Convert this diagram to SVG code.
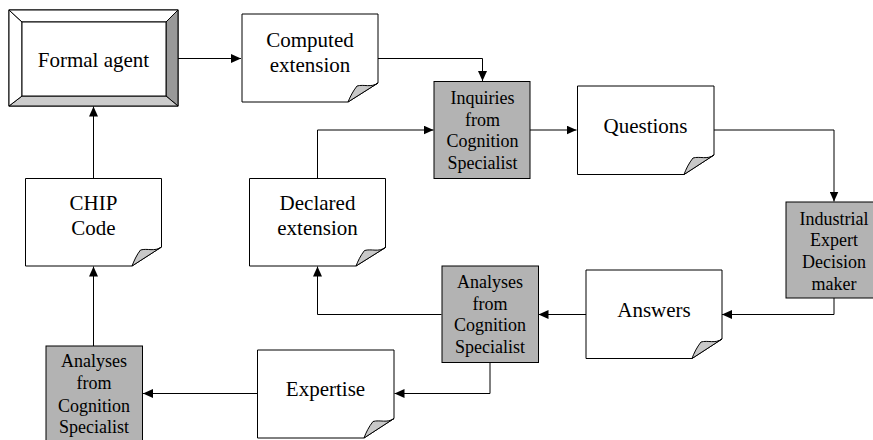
<svg xmlns="http://www.w3.org/2000/svg" width="873" height="440" viewBox="0 0 873 440">
<style>
.doc{fill:#fff;stroke:#000;stroke-width:1}
.curl{fill:#c8c8c8;stroke:#000;stroke-width:1}
.gray{fill:#b3b3b3;stroke:#000;stroke-width:1}
.t{font-family:"Liberation Serif","Times New Roman",serif;font-size:21px;fill:#000;text-anchor:middle}
.s{font-family:"Liberation Serif","Times New Roman",serif;font-size:18px;fill:#000;text-anchor:middle}
.c{fill:none;stroke:#000;stroke-width:1;marker-end:url(#ah)}
</style>
<defs>
<marker id="ah" markerUnits="userSpaceOnUse" markerWidth="11" markerHeight="9" refX="10" refY="4.5" orient="auto">
<path d="M0,0 L10,4.5 L0,9 Z" fill="#000"/>
</marker>
</defs>
<rect width="873" height="440" fill="#fff"/>

<g id="connectors">
<path class="c" d="M178,58.5 H241"/>
<path class="c" d="M378,58.5 H482.5 V81"/>
<path class="c" d="M530,130 H576.5"/>
<path class="c" d="M714,130 H834 V201.5"/>
<path class="c" d="M834,298 V314.5 H722"/>
<path class="c" d="M586,314.5 H538.5"/>
<path class="c" d="M441.5,314.5 H317.5 V266.5"/>
<path class="c" d="M317.5,178 V130 H433.5"/>
<path class="c" d="M490,362 V393.5 H394.5"/>
<path class="c" d="M257,393.5 H143"/>
<path class="c" d="M93.5,346 V266.5"/>
<path class="c" d="M93.5,178 V106.5"/>
</g>

<g id="formal-agent">
<rect x="9" y="10" width="169" height="96" fill="#fff" stroke="#000"/>
<polygon points="166,22 178,10 178,106 166,96" fill="#999" stroke="#000"/>
<polygon points="22,96 166,96 178,106 9,106" fill="#ccc" stroke="#000"/>
<polygon points="9,10 22,22 22,96 9,106" fill="#fff" stroke="#000"/>
<polygon points="9,10 178,10 166,22 22,22" fill="#fff" stroke="#000"/>
<rect x="22" y="22" width="144" height="74" fill="#fff" stroke="#000"/>
<text class="t" x="93.5" y="66.5">Formal agent</text>
</g>

<g id="computed-extension">
<path class="doc" d="M242,14 H378 V83 L348,102 H242 Z"/>
<path class="curl" d="M348,102 L378,83 C371,88 364,84 357,86 C353,91 350,97 348,102 Z"/>
<text class="t" x="310" y="46.5">Computed</text>
<text class="t" x="310" y="71.5">extension</text>
</g>

<g id="inquiries">
<rect class="gray" x="434" y="81.5" width="96" height="97"/>
<text class="s" x="482.5" y="104">Inquiries</text>
<text class="s" x="482.5" y="125.7">from</text>
<text class="s" x="482.5" y="147.4">Cognition</text>
<text class="s" x="482.5" y="169">Specialist</text>
</g>

<g id="questions">
<path class="doc" d="M577.5,86 H714 V155 L684,174.5 H577.5 Z"/>
<path class="curl" d="M684,174.5 L714,155 C707,160 700,156 693,158 C689,163 686,169 684,174.5 Z"/>
<text class="t" x="645.5" y="132.5">Questions</text>
</g>

<g id="industrial-expert">
<rect class="gray" x="786" y="202" width="100" height="96"/>
<text class="s" x="834" y="224.5">Industrial</text>
<text class="s" x="834" y="246.2">Expert</text>
<text class="s" x="834" y="268">Decision</text>
<text class="s" x="834" y="289.7">maker</text>
</g>

<g id="answers">
<path class="doc" d="M586,270 H722 V339 L692,358.5 H586 Z"/>
<path class="curl" d="M692,358.5 L722,339 C715,344 708,340 701,342 C697,347 694,353 692,358.5 Z"/>
<text class="t" x="654" y="316.5">Answers</text>
</g>

<g id="analyses-middle">
<rect class="gray" x="442" y="266" width="96.5" height="96.5"/>
<text class="s" x="490" y="288">Analyses</text>
<text class="s" x="490" y="309.7">from</text>
<text class="s" x="490" y="331.4">Cognition</text>
<text class="s" x="490" y="353">Specialist</text>
</g>

<g id="declared-extension">
<path class="doc" d="M249.5,178.5 H385.5 V247.5 L356,266 H249.5 Z"/>
<path class="curl" d="M356,266 L385.5,247.5 C378.5,252.5 371.5,248.5 364.5,250.5 C360.5,255.5 358,261 356,266 Z"/>
<text class="t" x="317.5" y="210">Declared</text>
<text class="t" x="317.5" y="235">extension</text>
</g>

<g id="chip-code">
<path class="doc" d="M25.5,178.5 H161.5 V247 L132,266 H25.5 Z"/>
<path class="curl" d="M132,266 L161.5,247 C154.5,252 147.5,248 140.5,250 C136.5,255 134,261 132,266 Z"/>
<text class="t" x="93.5" y="210">CHIP</text>
<text class="t" x="93.5" y="235">Code</text>
</g>

<g id="expertise">
<path class="doc" d="M257.5,350 H394 V418.5 L364,438 H257.5 Z"/>
<path class="curl" d="M364,438 L394,418.5 C387,423.5 380,419.5 373,421.5 C369,426.5 366,432.5 364,438 Z"/>
<text class="t" x="325.5" y="395.5">Expertise</text>
</g>

<g id="analyses-left">
<rect class="gray" x="46" y="346" width="96.5" height="100"/>
<text class="s" x="94" y="366.7">Analyses</text>
<text class="s" x="94" y="389.3">from</text>
<text class="s" x="94" y="411.7">Cognition</text>
<text class="s" x="94" y="433.3">Specialist</text>
</g>
</svg>
